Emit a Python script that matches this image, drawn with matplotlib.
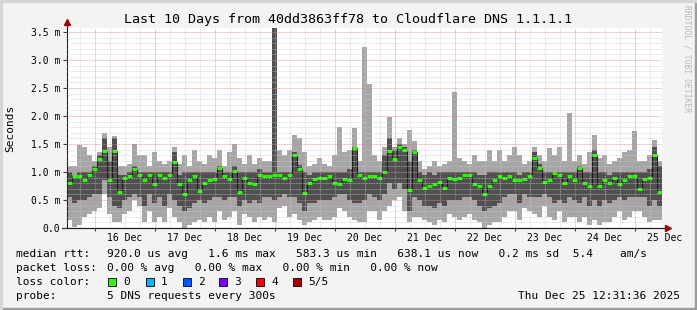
import numpy as np
import matplotlib
matplotlib.use('Agg')
import matplotlib.pyplot as plt
from matplotlib.patches import Rectangle
from matplotlib.ticker import MultipleLocator, FuncFormatter

W, H = 697, 310
MONO = 'DejaVu Sans Mono'

# ping times in ms, one entry per 2 h step (5 pings: min, 2nd, median, 4th, max)
ping_min = [0.15, 0.02, 0.05, 0.20, 0.25, 0.30, 0.35, 0.60, 0.25, 0.10,
            0.10, 0.25, 0.30, 0.50, 0.40, 0.10, 0.30, 0.10, 0.20, 0.10,
            0.35, 0.20, 0.10, 0.00, 0.05, 0.10, 0.15, 0.10, 0.20, 0.10,
            0.30, 0.15, 0.20, 0.30, 0.05, 0.25, 0.20, 0.10, 0.20, 0.15,
            0.20, 0.10, 0.35, 0.40, 0.20, 0.25, 0.15, 0.05, 0.10, 0.15,
            0.20, 0.15, 0.15, 0.20, 0.35, 0.30, 0.20, 0.15, 0.10, 0.10,
            0.30, 0.30, 0.15, 0.30, 0.40, 0.50, 0.55, 0.30, 0.10, 0.20,
            0.20, 0.15, 0.10, 0.05, 0.15, 0.10, 0.25, 0.20, 0.15, 0.20,
            0.25, 0.15, 0.10, 0.00, 0.05, 0.10, 0.10, 0.20, 0.30, 0.30,
            0.15, 0.35, 0.30, 0.25, 0.20, 0.40, 0.20, 0.15, 0.30, 0.10,
            0.20, 0.20, 0.10, 0.20, 0.05, 0.15, 0.05, 0.10, 0.10, 0.20,
            0.30, 0.15, 0.20, 0.30, 0.30, 0.20, 0.10, 0.15, 0.15]
ping_lo = [0.55, 0.45, 0.50, 0.50, 0.55, 0.60, 0.60, 0.85, 0.55, 0.40,
           0.35, 0.50, 0.55, 0.60, 0.55, 0.40, 0.60, 0.45, 0.55, 0.40,
           0.60, 0.50, 0.40, 0.30, 0.35, 0.45, 0.50, 0.45, 0.50, 0.55,
           0.55, 0.50, 0.55, 0.55, 0.40, 0.50, 0.45, 0.50, 0.45, 0.55,
           0.55, 0.50, 0.55, 0.60, 0.55, 0.55, 0.45, 0.30, 0.45, 0.45,
           0.50, 0.50, 0.50, 0.55, 0.60, 0.60, 0.50, 0.45, 0.45, 0.50,
           0.60, 0.55, 0.50, 0.60, 0.80, 0.70, 0.80, 0.70, 0.30, 0.55,
           0.50, 0.40, 0.40, 0.35, 0.45, 0.40, 0.50, 0.50, 0.50, 0.55,
           0.55, 0.50, 0.40, 0.30, 0.35, 0.40, 0.45, 0.55, 0.60, 0.60,
           0.45, 0.60, 0.55, 0.55, 0.55, 0.60, 0.55, 0.45, 0.50, 0.45,
           0.55, 0.50, 0.45, 0.55, 0.40, 0.50, 0.40, 0.50, 0.45, 0.50,
           0.55, 0.50, 0.55, 0.55, 0.55, 0.55, 0.40, 0.50, 0.40]
median = [0.80, 0.92, 0.93, 0.85, 0.95, 1.05, 1.24, 1.38, 0.85, 1.38,
          0.65, 0.90, 0.92, 1.05, 0.95, 0.85, 0.95, 0.78, 0.95, 0.90,
          0.95, 1.18, 0.78, 0.60, 0.85, 0.92, 0.66, 0.80, 0.85, 0.88,
          1.08, 0.92, 0.88, 1.02, 0.65, 0.90, 0.80, 0.78, 0.95, 0.92,
          0.92, 0.95, 0.95, 0.90, 0.95, 1.30, 1.05, 0.62, 0.80, 0.88,
          0.90, 0.90, 0.92, 0.80, 0.78, 0.88, 0.85, 1.42, 0.95, 0.90,
          0.92, 0.92, 0.90, 1.00, 1.38, 1.24, 1.44, 1.40, 0.68, 1.35,
          0.85, 0.72, 0.75, 0.78, 0.82, 0.72, 0.90, 0.88, 0.90, 0.95,
          0.95, 0.78, 0.75, 0.60, 0.75, 0.85, 0.92, 0.90, 0.93, 0.85,
          0.85, 0.87, 0.92, 1.25, 1.08, 0.82, 0.85, 0.98, 0.95, 0.80,
          0.92, 0.85, 1.08, 0.80, 0.75, 1.30, 0.75, 0.85, 0.80, 0.90,
          0.78, 0.85, 0.92, 0.92, 0.70, 0.88, 0.90, 1.30, 0.65]
ping_hi = [1.00, 0.95, 1.00, 1.00, 1.00, 1.10, 1.30, 1.60, 1.20, 1.60,
           0.95, 0.95, 1.00, 1.10, 1.00, 1.00, 1.00, 1.00, 1.00, 1.00,
           1.00, 1.36, 0.95, 1.00, 1.00, 1.00, 1.00, 1.00, 1.00, 1.00,
           1.10, 1.00, 1.00, 1.10, 1.00, 1.00, 1.00, 1.00, 1.05, 1.00,
           1.00, 3.60, 1.00, 1.00, 1.00, 1.35, 1.12, 1.00, 0.95, 1.00,
           1.00, 1.00, 1.00, 1.00, 1.00, 1.00, 1.05, 1.45, 1.00, 1.00,
           1.00, 1.00, 1.00, 1.30, 1.60, 1.40, 1.50, 1.45, 1.20, 1.40,
           1.00, 0.95, 1.00, 0.95, 1.00, 1.00, 1.00, 1.00, 1.00, 1.00,
           1.00, 1.00, 0.95, 0.95, 1.00, 1.00, 1.00, 1.00, 1.00, 1.00,
           0.95, 1.00, 1.00, 1.35, 1.15, 1.00, 1.00, 1.00, 1.00, 1.00,
           1.00, 1.00, 1.10, 1.00, 1.00, 1.40, 1.00, 1.00, 0.95, 1.00,
           1.00, 1.00, 1.00, 1.00, 1.00, 1.00, 1.05, 1.45, 1.10]
ping_max = [1.10, 1.10, 1.48, 1.45, 1.30, 1.20, 1.35, 1.70, 1.45, 1.65,
            1.10, 1.10, 1.15, 1.50, 1.30, 1.30, 1.10, 1.35, 1.20, 1.15,
            1.20, 1.45, 1.15, 1.30, 1.10, 1.40, 1.20, 1.15, 1.30, 1.25,
            1.40, 1.10, 1.35, 1.50, 1.25, 1.15, 1.30, 1.15, 1.25, 1.20,
            1.20, 3.60, 1.40, 1.30, 1.39, 1.66, 1.60, 1.35, 1.10, 1.15,
            1.25, 1.15, 1.10, 1.30, 1.80, 1.35, 1.40, 1.78, 1.20, 3.23,
            2.57, 1.30, 1.20, 1.45, 1.98, 1.45, 1.60, 1.50, 1.75, 1.55,
            1.20, 1.05, 1.10, 1.20, 1.10, 1.15, 1.20, 2.43, 1.25, 1.20,
            1.15, 1.30, 1.20, 1.20, 1.40, 1.20, 1.39, 1.20, 1.30, 1.45,
            1.30, 1.15, 1.20, 1.45, 1.30, 1.20, 1.43, 1.30, 1.45, 1.20,
            2.05, 1.20, 1.30, 1.15, 1.35, 1.66, 1.25, 1.30, 1.15, 1.20,
            1.25, 1.35, 1.40, 1.73, 1.20, 1.20, 1.30, 1.57, 1.20]

day_labels = ['16 Dec', '17 Dec', '18 Dec', '19 Dec', '20 Dec',
              '21 Dec', '22 Dec', '23 Dec', '24 Dec', '25 Dec']
day_of_month = [16, 17, 18, 19, 20, 21, 22, 23, 24, 25]

legend_keys = ['median rtt:', 'packet loss:', 'loss color:', 'probe:']
legend_values = ['920.0 us avg   1.6 ms max   583.3 us min   638.1 us now   0.2 ms sd  5.4    am/s',
                 '0.00 % avg   0.00 % max   0.00 % min   0.00 % now',
                 '',
                 '5 DNS requests every 300s']
loss_names = ['0', '1', '2', '3', '4', '5/5']
loss_colors = ['#26ff00', '#00b8ff', '#0059ff', '#7e00ff', '#ff0000', '#a10000']

step = 1 / 12.0                 # 2 hours in days
t_start = 15.0 + 12.8 / 24      # 15 Dec 12:48
n = len(median)
t = t_start + np.arange(n) * step
edges = np.append(t, t[-1] + step)


def ext(a):
    return np.append(a, a[-1])


fig = plt.figure(figsize=(W / 100, H / 100), dpi=100)
fig.patch.set_facecolor('#f3f3f3')

# frame around the image
fig.patches.append(Rectangle((0, 0), 1, 2 / H, transform=fig.transFigure, color='#9c9c9c', zorder=0))
fig.patches.append(Rectangle((1 - 2 / W, 0), 2 / W, 1, transform=fig.transFigure, color='#9c9c9c', zorder=0))
fig.patches.append(Rectangle((0, 1 - 2 / H), 1, 2 / H, transform=fig.transFigure, color='#d6d6d6', zorder=0))
fig.patches.append(Rectangle((0, 0), 2 / W, 1, transform=fig.transFigure, color='#d6d6d6', zorder=0))

ax = fig.add_axes([67 / W, 1 - 228 / H, 595 / W, 200 / H])
ax.set_facecolor('white')

ax.fill_between(edges, ext(ping_min), ext(ping_max), step='post', color='#a6a6a6', lw=0)
ax.fill_between(edges, ext(ping_lo), ext(ping_hi), step='post', color='#505050', lw=0)
ax.step(edges, ext(median), where='post', color='#1a1a1a', lw=0.8)
ax.hlines(median, t, t + step, color='#26ff00', lw=2.2)

ax.set_xlim(t_start, edges[-1])
ax.set_ylim(0, 3.571)

# grid (drawn over the smoke like rrdtool)
ax.xaxis.set_major_locator(MultipleLocator(1.0))
ax.xaxis.set_minor_locator(MultipleLocator(0.25))
ax.yaxis.set_major_locator(MultipleLocator(0.5))
ax.yaxis.set_minor_locator(MultipleLocator(0.1))
ax.set_axisbelow(False)
ax.grid(which='minor', color='#c8c8c8', lw=0.6, ls=(0, (1, 1)), alpha=0.8)
ax.grid(which='major', color='#f08080', lw=0.6, ls=(0, (1, 1)), alpha=0.9)

ax.yaxis.set_major_formatter(FuncFormatter(lambda v, p: '0.0' if v == 0 else f'{v:.1f} m'))
ax.tick_params(axis='y', which='major', length=3, width=0.8, pad=2, labelsize=7, color='#404040')
ax.tick_params(axis='y', which='minor', length=0)
ax.tick_params(axis='x', which='major', length=2, width=0.8, labelbottom=False, color='#404040')
ax.tick_params(axis='x', which='minor', length=0)
for lab in ax.get_yticklabels():
    lab.set_family(MONO)

for s in ['top', 'right']:
    ax.spines[s].set_visible(False)
ax.spines['left'].set_color('#202020')
ax.spines['bottom'].set_color('#202020')

# axis extensions with arrows
ax.plot([0, 0], [1.0, 1.03], transform=ax.transAxes, color='#202020', lw=0.8, clip_on=False)
ax.plot([0], [1.03], marker='^', ms=4, color='#a00000', transform=ax.transAxes, clip_on=False)
ax.plot([-0.008, 1.008], [0, 0], transform=ax.transAxes, color='#202020', lw=0.8, clip_on=False)
ax.plot([1.01], [0], marker='>', ms=4, color='#a00000', transform=ax.transAxes, clip_on=False)

for d, lab in zip(day_of_month, day_labels):
    ax.text(d + 0.5, -0.05, lab, transform=ax.get_xaxis_transform(), ha='center', va='center',
            family=MONO, fontsize=7, clip_on=False)

fig.text(348 / W, 1 - 19 / H, 'Last 10 Days from 40dd3863ff78 to Cloudflare DNS 1.1.1.1',
         ha='center', va='center', family=MONO, fontsize=9.6)
fig.text(10 / W, 1 - 128 / H, 'Seconds', rotation=90, ha='center', va='center',
         family=MONO, fontsize=8)
fig.text(687 / W, 1 - 5 / H, 'RRDTOOL / TOBI OETIKER', rotation=-90, ha='center', va='top',
         family=MONO, fontsize=5.8, color='#b8b8b8')

row_y = [254, 268, 282, 296]
for y, key, val in zip(row_y, legend_keys, legend_values):
    fig.text(16 / W, 1 - y / H, key, ha='left', va='center', family=MONO, fontsize=8)
    if val:
        fig.text(107 / W, 1 - y / H, val, ha='left', va='center', family=MONO, fontsize=8)

box_x = [108, 146, 183, 219, 256, 293]
for bx, col, name in zip(box_x, loss_colors, loss_names):
    fig.patches.append(Rectangle((bx / W, 1 - 286 / H), 8 / W, 8 / H, transform=fig.transFigure,
                                 facecolor=col, edgecolor='black', lw=0.6))
    fig.text((bx + 15) / W, 1 - 282 / H, name, ha='left', va='center', family=MONO, fontsize=8)

fig.text(680 / W, 1 - 296 / H, 'Thu Dec 25 12:31:36 2025', ha='right', va='center',
         family=MONO, fontsize=8)

fig.savefig('out.png', dpi=100, facecolor=fig.get_facecolor())
